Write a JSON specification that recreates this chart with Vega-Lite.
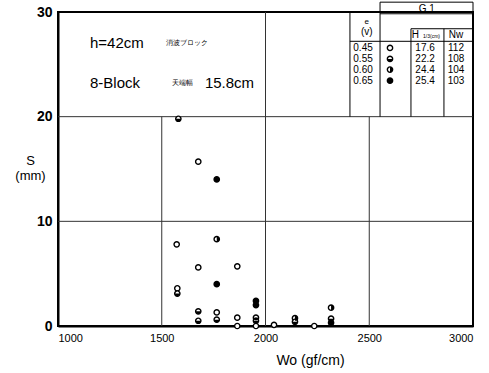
{
  "$schema": "https://vega.github.io/schema/vega-lite/v6.json",
  "autosize": {"type": "none"},
  "width": 415,
  "height": 314,
  "padding": {"left": 58, "top": 12, "right": 16, "bottom": 47},
  "background": "white",
  "config": {
    "view": {"stroke": "black", "strokeWidth": 2},
    "font": "Liberation Sans"
  },
  "datasets": {
    "pts": [
      {"Wo": 1580, "S": 19.8, "e": "0.55"},
      {"Wo": 1676, "S": 15.7, "e": "0.45"},
      {"Wo": 1765, "S": 14.0, "e": "0.65"},
      {"Wo": 1572, "S": 7.8, "e": "0.45"},
      {"Wo": 1765, "S": 8.3, "e": "0.60"},
      {"Wo": 1676, "S": 5.6, "e": "0.45"},
      {"Wo": 1864, "S": 5.7, "e": "0.45"},
      {"Wo": 1765, "S": 4.0, "e": "0.65"},
      {"Wo": 1575, "S": 3.6, "e": "0.45"},
      {"Wo": 1575, "S": 3.1, "e": "0.55"},
      {"Wo": 1954, "S": 2.4, "e": "0.65"},
      {"Wo": 1954, "S": 2.0, "e": "0.65"},
      {"Wo": 1676, "S": 1.4, "e": "0.55"},
      {"Wo": 1676, "S": 0.5, "e": "0.55"},
      {"Wo": 1765, "S": 1.3, "e": "0.45"},
      {"Wo": 1765, "S": 0.6, "e": "0.55"},
      {"Wo": 1864, "S": 0.8, "e": "0.45"},
      {"Wo": 1864, "S": 0.0, "e": "0.45"},
      {"Wo": 1954, "S": 0.8, "e": "0.55"},
      {"Wo": 1954, "S": 0.5, "e": "0.55"},
      {"Wo": 1954, "S": 0.0, "e": "0.45"},
      {"Wo": 2041, "S": 0.1, "e": "0.45"},
      {"Wo": 2142, "S": 0.75, "e": "0.60"},
      {"Wo": 2142, "S": 0.4, "e": "0.55"},
      {"Wo": 2235, "S": 0.0, "e": "0.45"},
      {"Wo": 2316, "S": 1.75, "e": "0.60"},
      {"Wo": 2316, "S": 0.7, "e": "0.55"},
      {"Wo": 2316, "S": 0.3, "e": "0.65"},
      {"Wo": 2600, "S": 26.57, "e": "0.45"},
      {"Wo": 2600, "S": 25.52, "e": "0.55"},
      {"Wo": 2600, "S": 24.5, "e": "0.60"},
      {"Wo": 2600, "S": 23.44, "e": "0.65"}
    ],
    "grid": [
      {"x": 1500, "x2": 1500, "y": 0, "y2": 20},
      {"x": 2000, "x2": 2000, "y": 0, "y2": 30},
      {"x": 2500, "x2": 2500, "y": 0, "y2": 20},
      {"x": 1000, "x2": 3000, "y": 10, "y2": 10},
      {"x": 1000, "x2": 3000, "y": 20, "y2": 20}
    ],
    "tablelines": [
      {"x": 2407, "x2": 2407, "y": 20, "y2": 30},
      {"x": 2552, "x2": 2552, "y": 20, "y2": 30.94},
      {"x": 2701, "x2": 2701, "y": 20, "y2": 28.4},
      {"x": 2860, "x2": 2860, "y": 20, "y2": 28.4},
      {"x": 3000, "x2": 3000, "y": 20, "y2": 30.94},
      {"x": 2552, "x2": 3000, "y": 30.94, "y2": 30.94},
      {"x": 2552, "x2": 3000, "y": 29.83, "y2": 29.83},
      {"x": 2701, "x2": 3000, "y": 28.4, "y2": 28.4},
      {"x": 2407, "x2": 3000, "y": 27.2, "y2": 27.2}
    ],
    "tabletext": [
      {"x": 2470, "y": 26.57, "t": "0.45", "s": 10},
      {"x": 2470, "y": 25.52, "t": "0.55", "s": 10},
      {"x": 2470, "y": 24.5, "t": "0.60", "s": 10},
      {"x": 2470, "y": 23.44, "t": "0.65", "s": 10},
      {"x": 2769, "y": 26.57, "t": "17.6", "s": 10},
      {"x": 2769, "y": 25.52, "t": "22.2", "s": 10},
      {"x": 2769, "y": 24.5, "t": "24.4", "s": 10},
      {"x": 2769, "y": 23.44, "t": "25.4", "s": 10},
      {"x": 2918, "y": 26.57, "t": "112", "s": 10},
      {"x": 2918, "y": 25.52, "t": "108", "s": 10},
      {"x": 2918, "y": 24.5, "t": "104", "s": 10},
      {"x": 2918, "y": 23.44, "t": "103", "s": 10},
      {"x": 2488, "y": 29.05, "t": "e", "s": 8},
      {"x": 2488, "y": 28.07, "t": "(v)", "s": 10},
      {"x": 2777, "y": 30.3, "t": "G   1", "s": 10},
      {"x": 2918, "y": 27.85, "t": "Nw", "s": 10},
      {"x": 2722, "y": 27.85, "t": "H", "s": 10},
      {"x": 2800, "y": 27.75, "t": "1/3(cm)", "s": 5}
    ],
    "notes": [
      {"x": 1154, "y": 27.0, "t": "h=42cm", "s": 15},
      {"x": 1520, "y": 27.0, "t": "消波ブロック", "s": 7},
      {"x": 1154, "y": 23.2, "t": "8-Block", "s": 15},
      {"x": 1549, "y": 23.2, "t": "天端幅", "s": 7},
      {"x": 1708, "y": 23.2, "t": "15.8cm", "s": 15}
    ]
  },
  "encoding": {
    "x": {
      "field": "x", "type": "quantitative",
      "scale": {"domain": [1000, 3000], "nice": false, "zero": false},
      "axis": {
        "values": [1000, 1500, 2000, 2500, 3000], "format": "d",
        "grid": false, "ticks": false,
        "domainColor": "black", "domainWidth": 2,
        "labelFontSize": 11, "labelColor": "black", "labelPadding": 6,
        "title": "Wo (gf/cm)", "titleFontSize": 14, "titleFontWeight": "normal", "titleColor": "black",
        "titleX": 252, "titleY": 34, "titleBaseline": "middle"
      }
    },
    "y": {
      "field": "y", "type": "quantitative",
      "scale": {"domain": [0, 30], "nice": false},
      "axis": {
        "values": [0, 10, 20, 30],
        "grid": false, "ticks": false,
        "domainColor": "black", "domainWidth": 2,
        "labelFontSize": 14, "labelColor": "black", "labelPadding": 6, "labelFontWeight": "bold",
        "title": ["S", "(mm)"], "titleAngle": 0, "titleFontSize": 13, "titleFontWeight": "normal", "titleColor": "black",
        "titleX": -28, "titleY": 148, "titleAlign": "center", "titleBaseline": "middle", "titleLineHeight": 15
      }
    }
  },
  "layer": [
    {
      "data": {"name": "grid"},
      "mark": {"type": "rule", "color": "#333", "strokeWidth": 1},
      "encoding": {"x2": {"field": "x2"}, "y2": {"field": "y2"}}
    },
    {
      "data": {"name": "tablelines"},
      "mark": {"type": "rule", "color": "black", "strokeWidth": 1, "clip": false},
      "encoding": {"x2": {"field": "x2"}, "y2": {"field": "y2"}}
    },
    {
      "data": {"name": "tabletext"},
      "mark": {"type": "text", "color": "black", "align": "center", "baseline": "middle"},
      "encoding": {"text": {"field": "t"}, "size": {"field": "s", "type": "quantitative", "scale": null}}
    },
    {
      "data": {"name": "notes"},
      "mark": {"type": "text", "color": "black", "align": "left", "baseline": "middle"},
      "encoding": {"text": {"field": "t"}, "size": {"field": "s", "type": "quantitative", "scale": null}}
    },
    {
      "data": {"name": "pts"},
      "mark": {"type": "point", "shape": "circle", "filled": false, "fill": "white", "fillOpacity": 1, "stroke": "black", "strokeWidth": 1.4, "size": 28, "opacity": 1},
      "encoding": {"x": {"field": "Wo", "type": "quantitative"}, "y": {"field": "S", "type": "quantitative"}}
    },
    {
      "data": {"name": "pts"},
      "transform": [{"filter": "datum.e != '0.45'"}],
      "mark": {"type": "point", "filled": true, "color": "black", "opacity": 1, "size": 28},
      "encoding": {
        "x": {"field": "Wo", "type": "quantitative"},
        "y": {"field": "S", "type": "quantitative"},
        "shape": {
          "field": "e", "type": "nominal", "legend": null,
          "scale": {"domain": ["0.55", "0.60", "0.65"], "range": ["M-1,0A1,1,0,0,0,1,0Z", "M0,-1A1,1,0,0,1,0,1Z", "circle"]}
        }
      }
    }
  ]
}
